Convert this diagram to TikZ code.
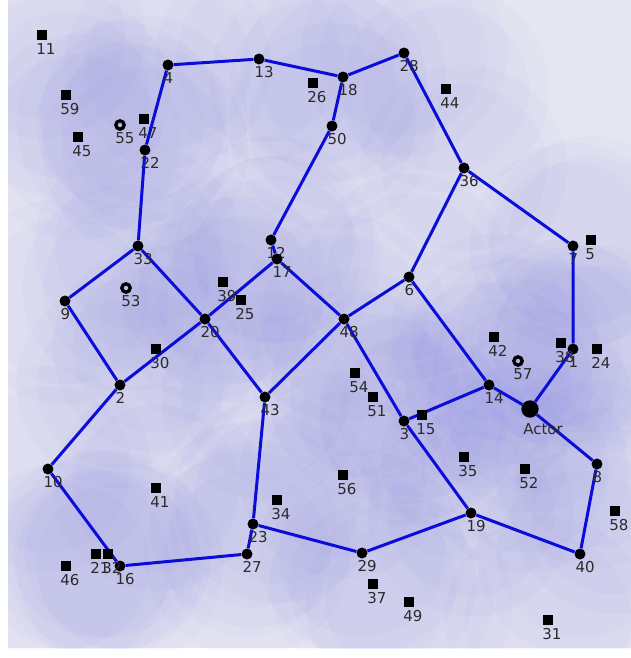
\documentclass[tikz,border=0pt]{standalone}
\usepackage{fontspec}
\setmainfont{DejaVu Sans}
\usetikzlibrary{backgrounds}
\definecolor{clink}{HTML}{0C0CDA}
\definecolor{cradio}{HTML}{6A6AE6}
\definecolor{cpanel}{HTML}{E6E6F2}
\definecolor{ctext}{HTML}{2B2B2B}
\tikzset{
  every picture/.style={x=0.03cm, y=-0.03cm},
  lab/.style={anchor=north west, inner sep=0pt, text=ctext, font=\fontsize{12.8}{14}\selectfont, xshift=-0.02cm, yshift=-0.1cm},
  dot/.style={circle, fill=black, inner sep=0pt, minimum size=0.33cm, label={[lab]-135:#1}},
  actor/.style={circle, fill=black, inner sep=0pt, minimum size=0.52cm, label={[lab, yshift=-0.15cm]-135:#1}},
  sq/.style={rectangle, fill=black, inner sep=0pt, minimum size=0.3cm, label={[lab]-135:#1}},
  ring/.style={circle, draw=black, line width=0.1cm, inner sep=0pt, minimum size=0.25cm, label={[lab]-135:#1}},
  link/.style={draw=clink, line width=0.09cm},
  radio/.style={fill=cradio, fill opacity=0.03},
}

\begin{document}
\begin{tikzpicture}
  \useasboundingbox (0,0) rectangle (631,658);
  % routed nodes
  \node[dot=4] (n4) at (168,65) {};
  \node[dot=13] (n13) at (259,59) {};
  \node[dot=18] (n18) at (343,77) {};
  \node[dot=28] (n28) at (404,53) {};
  \node[dot=50] (n50) at (332,126) {};
  \node[dot=22] (n22) at (145,150) {};
  \node[dot=36] (n36) at (464,168) {};
  \node[dot=7] (n7) at (573,246) {};
  \node[dot=33] (n33) at (138,246) {};
  \node[dot=12] (n12) at (271,240) {};
  \node[dot=17] (n17) at (277,259) {};
  \node[dot=9] (n9) at (65,301) {};
  \node[dot=6] (n6) at (409,277) {};
  \node[dot=20] (n20) at (205,319) {};
  \node[dot=48] (n48) at (344,319) {};
  \node[dot=1] (n1) at (573,349) {};
  \node[dot=2] (n2) at (120,385) {};
  \node[dot=14] (n14) at (489,385) {};
  \node[actor=Actor] (actor) at (530,409) {};
  \node[dot=43] (n43) at (265,397) {};
  \node[dot=3] (n3) at (404,421) {};
  \node[dot=10] (n10) at (48,469) {};
  \node[dot=8] (n8) at (597,464) {};
  \node[dot=19] (n19) at (471,513) {};
  \node[dot=23] (n23) at (253,524) {};
  \node[dot=27] (n27) at (247,554) {};
  \node[dot=16] (n16) at (120,566) {};
  \node[dot=29] (n29) at (362,553) {};
  \node[dot=40] (n40) at (580,554) {};
  % unconnected nodes
  \node[sq=11] (n11) at (42,35) {};
  \node[sq=59] (n59) at (66,95) {};
  \node[sq=45] (n45) at (78,137) {};
  \node[sq=47] (n47) at (144,119) {};
  \node[sq=26] (n26) at (313,83) {};
  \node[sq=44] (n44) at (446,89) {};
  \node[sq=5] (n5) at (591,240) {};
  \node[sq=39] (n39) at (223,282) {};
  \node[sq=25] (n25) at (241,300) {};
  \node[sq=30] (n30) at (156,349) {};
  \node[sq=42] (n42) at (494,337) {};
  \node[sq=38] (n38) at (561,343) {};
  \node[sq=24] (n24) at (597,349) {};
  \node[sq=54] (n54) at (355,373) {};
  \node[sq=51] (n51) at (373,397) {};
  \node[sq=15] (n15) at (422,415) {};
  \node[sq=35] (n35) at (464,457) {};
  \node[sq=52] (n52) at (525,469) {};
  \node[sq=56] (n56) at (343,475) {};
  \node[sq=41] (n41) at (156,488) {};
  \node[sq=34] (n34) at (277,500) {};
  \node[sq=58] (n58) at (615,511) {};
  \node[sq=46] (n46) at (66,566) {};
  \node[sq=21] (n21) at (96,554) {};
  \node[sq=32] (n32) at (108,554) {};
  \node[sq=37] (n37) at (373,584) {};
  \node[sq=49] (n49) at (409,602) {};
  \node[sq=31] (n31) at (548,620) {};
  \node[ring=55] (n55) at (120,125) {};
  \node[ring=53] (n53) at (126,288) {};
  \node[ring=57] (n57) at (518,361) {};
  \begin{scope}[on background layer]
    \fill[cpanel] (8,0) rectangle (631,648);
    \begin{scope}
      \clip (8,0) rectangle (631,648);
      \foreach \n in {n1,n2,n3,n4,n5,n6,n7,n8,n9,n10,n11,n12,n13,n14,n15,n16,n17,n18,n19,n20,
        n21,n22,n23,n24,n25,n26,n27,n28,n29,n30,n31,n32,n33,n34,n35,n36,n37,n38,n39,n40,
        n41,n42,n43,n44,n45,n46,n47,n48,n49,n50,n51,n52,n53,n54,n55,n56,n57,n58,n59,actor}
      {
        \fill[radio] (\n) circle[radius=3.1cm];
        \fill[radio] (\n) circle[radius=2.5cm];
      }
    \end{scope}
    % links
    \draw[link] (n4) -- (n13) -- (n18) -- (n28) -- (n36) -- (n7) -- (n1) -- (actor) -- (n8) -- (n40)
      -- (n19) -- (n29) -- (n23) -- (n27) -- (n16) -- (n10) -- (n2) -- (n9) -- (n33) -- (n22) -- (n4);
    \draw[link] (n18) -- (n50) -- (n12) -- (n17) -- (n20) -- (n2);
    \draw[link] (n33) -- (n20) -- (n43) -- (n23);
    \draw[link] (n17) -- (n48) -- (n6) -- (n36);
    \draw[link] (n43) -- (n48) -- (n3) -- (n19);
    \draw[link] (n6) -- (n14) -- (actor);
    \draw[link] (n3) -- (n14);
  \end{scope}
\end{tikzpicture}
\end{document}
